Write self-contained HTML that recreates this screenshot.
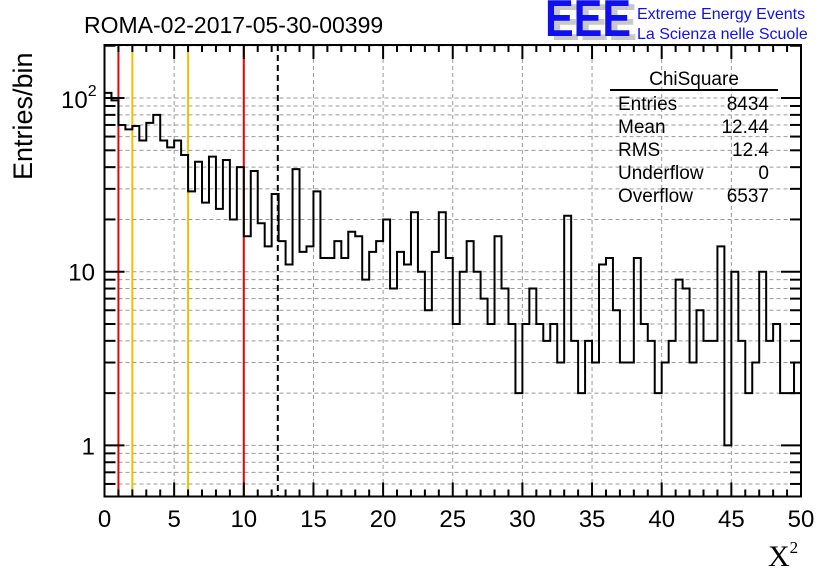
<!DOCTYPE html>
<html><head><meta charset="utf-8"><style>
html,body{margin:0;padding:0;background:#fff;}
svg{display:block;font-family:"Liberation Sans",sans-serif;}
</style></head><body>
<svg id="chart" width="836" height="572" viewBox="0 0 836 572" xmlns="http://www.w3.org/2000/svg">
<rect width="836" height="572" fill="#fff"/>
<g id="grid"></g>
<g id="vlines"></g>
<path id="hist" fill="none" stroke="#000" stroke-width="2"/>
<g id="axes"></g>
<text x="84" y="33" font-size="23">ROMA-02-2017-05-30-00399</text>
<text transform="translate(32,180) rotate(-90)" font-size="27">Entries/bin</text>
<text x="768" y="566" font-size="30" font-family="Liberation Serif,serif">X<tspan font-size="17" dy="-13">2</tspan></text>
<g>
<text x="551" y="40" font-size="52" font-weight="bold" fill="#c8c8c8" textLength="86" lengthAdjust="spacingAndGlyphs">EEE</text>
<text x="545" y="36" font-size="52" font-weight="bold" fill="#1010ee" textLength="86" lengthAdjust="spacingAndGlyphs">EEE</text>
<text x="637" y="19" font-size="16" fill="#1010ee">Extreme Energy Events</text>
<text x="637" y="39" font-size="16" fill="#1010ee">La Scienza nelle Scuole</text>
</g>
<g font-size="19">
<text x="694" y="85" text-anchor="middle">ChiSquare</text>
<line x1="610" y1="90" x2="778" y2="90" stroke="#000" stroke-width="2"/>
<text x="618" y="110">Entries</text><text x="769" y="110" text-anchor="end">8434</text>
<text x="618" y="133">Mean</text><text x="769" y="133" text-anchor="end">12.44</text>
<text x="618" y="156">RMS</text><text x="769" y="156" text-anchor="end">12.4</text>
<text x="618" y="179">Underflow</text><text x="769" y="179" text-anchor="end">0</text>
<text x="618" y="202">Overflow</text><text x="769" y="202" text-anchor="end">6537</text>
</g>
</svg>
<script>
const counts = [107,97,70,66,69,57,72,80,57,52,57,47,29,43,25,46,23,44,20,40,16,38,19,14,28,15,11,39,13,14,29,12,12,15,12,17,16,9,13,15,20,8,13,11,22,10,6,13,22,12,5,10,15,10,7,5,16,8,5,2,5,8,5,4,5,3,21,4,2,4,3,11,12,6,3,3,12,5,4,2,3,4,9,8,3,6,4,4,14,1,10,4,2,3,10,4,5,2,2,3];
const xTicks = [0,5,10,15,20,25,30,35,40,45,50];
const yTickLabels = ["1","10"];
const cutLines = [{v:1,c:"#ee0000"},{v:2,c:"#f0c000"},{v:6,c:"#f0c000"},{v:10,c:"#ee0000"}];
const meanValue = 12.44;
const xMin=0,xMax=50,binW=0.5,yMin=0.508,yMax=202;
const L=104.5,R=801,T=45,B=496.5;
const sx=v=>L+(v-xMin)/(xMax-xMin)*(R-L);
const sy=v=>B-(Math.log10(v)-Math.log10(yMin))/(Math.log10(yMax)-Math.log10(yMin))*(B-T);
const NS="http://www.w3.org/2000/svg";
function mk(p,tag,at){const e=document.createElementNS(NS,tag);for(const k in at)e.setAttribute(k,at[k]);p.appendChild(e);return e;}
const grid=document.getElementById('grid');
xTicks.forEach(t=>{if(t>xMin&&t<xMax){const l=mk(grid,'line',{x1:sx(t),x2:sx(t),y1:T,y2:B,stroke:'#999','stroke-dasharray':'4,3','stroke-width':1});

}});
for(let d=0.1;d<=100;d*=10){for(let m=1;m<10;m++){const v=Math.round(d*m*1000)/1000;if(v<yMin||v>yMax)continue;const l=mk(grid,'line',{x1:L,x2:R,y1:sy(v),y2:sy(v),stroke:'#999','stroke-dasharray':'4,3','stroke-width':1});

}}
const vl=document.getElementById('vlines');
cutLines.forEach(c=>{const l=mk(vl,'line',{x1:sx(c.v),x2:sx(c.v),y1:T,y2:B,stroke:c.c,'stroke-width':2});

});
const ml=mk(vl,'line',{x1:sx(meanValue),x2:sx(meanValue),y1:T,y2:B,stroke:'#000','stroke-width':2,'stroke-dasharray':'6,4'});


let d='';
counts.forEach((c,i)=>{const x0=sx(i*binW),x1=sx((i+1)*binW),y=sy(Math.max(c,yMin));d+=(i===0?'M'+x0+','+y:'L'+x0+','+y)+'L'+x1+','+y;});
document.getElementById('hist').setAttribute('d',d);
const ax=document.getElementById('axes');
mk(ax,'rect',{x:L,y:T,width:R-L,height:B-T,fill:'none',stroke:'#000','stroke-width':2});
for(let v=xMin;v<=xMax;v+=1){const maj=v%5===0,len=maj?14:7;
mk(ax,'line',{x1:sx(v),x2:sx(v),y1:B,y2:B-len,stroke:'#000','stroke-width':2});
mk(ax,'line',{x1:sx(v),x2:sx(v),y1:T,y2:T+len,stroke:'#000','stroke-width':2});}
xTicks.forEach(t=>{const e=mk(ax,'text',{x:sx(t),y:527,'font-size':24,'text-anchor':'middle'});e.textContent=t;

});
for(let dd=0.1;dd<=100;dd*=10){for(let m=1;m<10;m++){const v=Math.round(dd*m*1000)/1000;if(v<yMin||v>yMax)continue;const maj=m===1,len=maj?20:11;
mk(ax,'line',{x1:L,x2:L+len,y1:sy(v),y2:sy(v),stroke:'#000','stroke-width':2});
mk(ax,'line',{x1:R,x2:R-len,y1:sy(v),y2:sy(v),stroke:'#000','stroke-width':2});}}
yTickLabels.forEach(s=>{const e=mk(ax,'text',{x:95,y:sy(+s)+9,'font-size':24,'text-anchor':'end'});e.textContent=s;

});
const e100=mk(ax,'text',{x:61,y:sy(100)+10,'font-size':24});e100.innerHTML='10<tspan font-size="16" dy="-12">2</tspan>';


</script>
</body></html>
